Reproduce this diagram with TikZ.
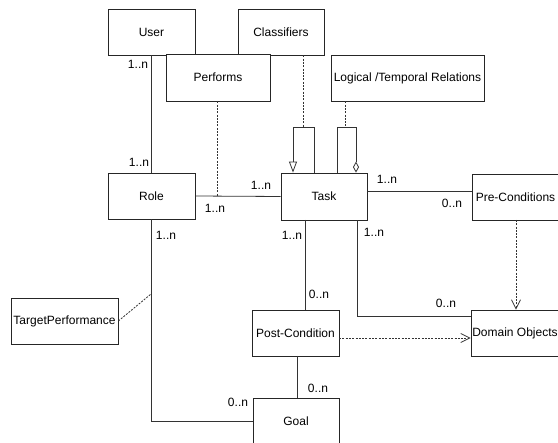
\documentclass[tikz,border=0pt]{standalone}
\usepackage{fontspec}
\setmainfont{Liberation Sans}
\usetikzlibrary{arrows.meta}
\begin{document}
\begin{tikzpicture}[x=1pt,y=-1pt,
  box/.style={draw=black!85,line width=0.8pt,fill=white,rectangle,inner sep=1pt,font=\fontsize{12}{14}\selectfont},
  conn/.style={draw=black!80,line width=0.8pt},
  dep/.style={draw=black!80,line width=0.8pt,dash pattern=on 2pt off 1.3pt},
  mult/.style={inner sep=0pt,font=\fontsize{12}{14}\selectfont},
  vtip/.style={-{Straight Barb[length=9pt,width=9pt,line width=0.8pt]}},
]
\useasboundingbox (0,0) rectangle (558,443);
\clip (0,0) rectangle (558,443);
% boxes
\node[box,minimum width=87pt,minimum height=46pt] (User) at (151.5,32) {User};
\node[box,minimum width=86pt,minimum height=46pt] (Classifiers) at (281,32) {Classifiers};
\node[box,minimum width=104pt,minimum height=47pt] (Performs) at (218,77.5) {Performs};
\node[box,minimum width=153pt,minimum height=46pt] (Logical) at (407.5,78) {Logical /Temporal Relations};
\node[box,minimum width=87pt,minimum height=46pt] (Role) at (151.5,196) {Role};
\node[box,minimum width=86pt,minimum height=47pt] (Task) at (324,196.5) {Task};
\node[box,minimum width=87pt,minimum height=46pt] (Pre) at (515.5,197) {Pre-Conditions};
\node[box,minimum width=107pt,minimum height=46pt] (Target) at (64.5,321) {TargetPerformance};
\node[box,minimum width=87pt,minimum height=46pt] (Post) at (295.5,333) {Post-Condition};
\node[box,minimum width=88pt,minimum height=46pt] (Domain) at (515,333) {Domain Objects};
\node[box,minimum width=86pt,minimum height=46pt] (Goal) at (296,421) {Goal};
% helper coordinates
\coordinate (perfpt) at (217,196.5);
\coordinate (clsend) at (303,127);
\coordinate (g1) at (314,127);
\coordinate (g2) at (293,127);
\coordinate (a1) at (337,127);
\coordinate (a2) at (356,127);
\coordinate (logend) at (345,127);
\coordinate (prept) at (420,191);
\coordinate (tpost) at (305,220);
\coordinate (tdom) at (357,316);
\coordinate (predom) at (516,220);
\coordinate (postdom) at (339,338);
\coordinate (pgoal) at (297,356);
\coordinate (rolebend) at (151,421);
\coordinate (tppt) at (151,294);
% connectors
\draw[conn] (User.south) -- (Role.north);
\draw[conn] (Role.east) -- (Task.west);
\draw[dep] (Performs.south -| perfpt) -- (perfpt);
\draw[dep] (Classifiers.south -| clsend) -- (clsend);
\draw[conn,-{Triangle[open,length=11pt,width=8pt,line width=0.8pt]}] (Task.north -| g1) -- (g1) -- (g2) -- (Task.north -| g2);
\draw[conn,-{Diamond[open,length=11pt,width=6pt,line width=0.8pt]}] (Task.north -| a1) -- (a1) -- (a2) -- (Task.north -| a2);
\draw[dep] (Logical.south -| logend) -- (logend);
\draw[conn] (Task.east |- prept) -- (Pre.west |- prept);
\draw[conn] (tpost) -- (Post.north -| tpost);
\draw[conn] (Task.south -| tdom) -- (tdom) -- (Domain.west |- tdom);
\draw[dep,vtip] (predom) -- (Domain.north -| predom);
\draw[dep,vtip] (postdom) -- (Domain.west |- postdom);
\draw[conn] (pgoal) -- (Goal.north -| pgoal);
\draw[conn] (Role.south -| rolebend) -- (rolebend) -- (Goal.west);
\draw[dep] (Target.east) -- (tppt);
% multiplicities
\node[mult] (m1) at (138,64) {1..n};
\node[mult] (m2) at (139,162) {1..n};
\node[mult] (m3) at (261,185) {1..n};
\node[mult] (m4) at (215,208) {1..n};
\node[mult] (m5) at (387,179) {1..n};
\node[mult] (m6) at (452,203) {0..n};
\node[mult] (m7) at (292,235) {1..n};
\node[mult] (m8) at (319,294) {0..n};
\node[mult] (m9) at (374,232) {1..n};
\node[mult] (m10) at (446,303) {0..n};
\node[mult] (m11) at (318,388) {0..n};
\node[mult] (m12) at (166,235) {1..n};
\node[mult] (m13) at (238,402) {0..n};
\end{tikzpicture}
\end{document}
